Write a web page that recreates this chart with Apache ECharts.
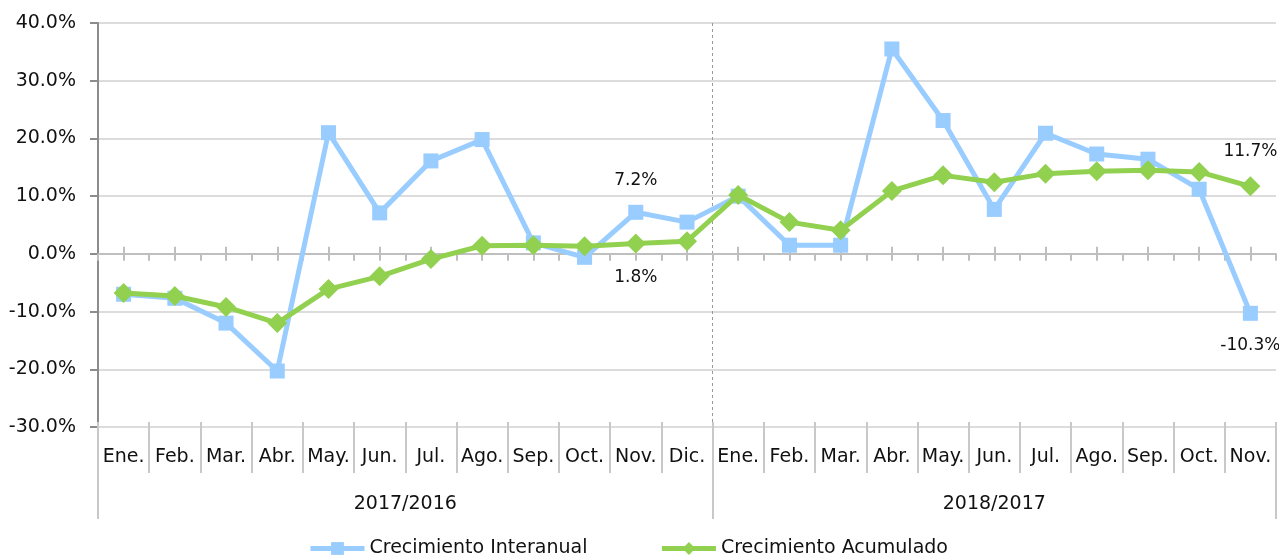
<!DOCTYPE html>
<html lang="es">
<head>
    <meta charset="UTF-8">
    <title>Crecimiento Interanual y Acumulado</title>
    <script src="https://cdn.jsdelivr.net/npm/echarts/dist/echarts.min.js"></script>
    <style>
        html, body { margin: 0; padding: 0; background: #ffffff; }
        #chart { width: 1279px; height: 557px; }
    </style>
</head>
<body>
    <div id="chart"></div>
    <script>
        // meses (eje de categorías)
        const months = ['Ene.', 'Feb.', 'Mar.', 'Abr.', 'May.', 'Jun.', 'Jul.', 'Ago.', 'Sep.', 'Oct.', 'Nov.', 'Dic.',
                        'Ene.', 'Feb.', 'Mar.', 'Abr.', 'May.', 'Jun.', 'Jul.', 'Ago.', 'Sep.', 'Oct.', 'Nov.'];
        // periodos (segundo nivel del eje)
        const periods = ['2017/2016', '2018/2017'];
        const periodLengths = [12, 11];

        // valores en %
        const interanual = [-7.0, -7.7, -12.0, -20.3, 21.0, 7.1, 16.1, 19.8, 1.9, -0.6, 7.2, 5.5,
                            10.0, 1.5, 1.5, 35.5, 23.1, 7.7, 20.9, 17.3, 16.4, 11.2, -10.3];
        const acumulado = [-6.8, -7.3, -9.2, -12.0, -6.1, -3.9, -0.9, 1.4, 1.5, 1.3, 1.8, 2.2,
                           10.2, 5.5, 4.1, 10.9, 13.6, 12.4, 13.9, 14.3, 14.5, 14.2, 11.7];

        // índices con etiqueta de dato
        const labelledIdx = [10, 22];
        const interanualLabelPos = ['top', 'bottom'];
        const acumuladoLabelPos = ['bottom', 'top'];

        const FONT = 'DejaVu Sans';

        // eje auxiliar con medio paso por categoría (para marcas y periodos)
        const halfSteps = Array.from({ length: months.length * 2 + 1 }, () => '');
        const boundaries = [0];
        let start = 0;
        periods.forEach((p, i) => {
            halfSteps[start * 2 + periodLengths[i]] = p;
            start += periodLengths[i];
            boundaries.push(start * 2);
        });

        function withLabels(values, positions) {
            return values.map((v, i) => {
                const k = labelledIdx.indexOf(i);
                if (k < 0) return v;
                return {
                    value: v,
                    label: {
                        show: true,
                        position: positions[k],
                        distance: 16,
                        fontFamily: FONT,
                        fontSize: 17,
                        color: '#111',
                        formatter: p => p.value.toFixed(1) + '%'
                    }
                };
            });
        }

        const chart = echarts.init(document.getElementById('chart'));
        const option = {
            animation: false,
            grid: { left: 98, right: 3, top: 23, bottom: 130 },
            legend: {
                top: 534,
                left: 303,
                itemWidth: 54,
                itemHeight: 16,
                itemGap: 72,
                lineStyle: { width: 5 },
                textStyle: { fontFamily: FONT, fontSize: 19, color: '#111' },
                data: ['Crecimiento Interanual', 'Crecimiento Acumulado']
            },
            xAxis: [
                {
                    // meses
                    type: 'category',
                    data: months,
                    boundaryGap: true,
                    position: 'bottom',
                    offset: -5,
                    axisLine: { show: false, onZero: false },
                    axisTick: { show: true, interval: 0, length: 51, lineStyle: { color: '#c8c8c8', width: 2 } },
                    axisLabel: { interval: 0, margin: 26, fontFamily: FONT, fontSize: 19, color: '#111' },
                    splitLine: { show: false }
                },
                {
                    // línea del cero con marcas cada media categoría
                    type: 'category',
                    data: halfSteps,
                    boundaryGap: false,
                    position: 'bottom',
                    axisLine: { show: true, onZero: true, onZeroAxisIndex: 0, lineStyle: { color: '#bfbfbf', width: 2 } },
                    axisTick: { show: true, length: 7, interval: 0, lineStyle: { color: '#bfbfbf', width: 2 } },
                    axisLabel: { show: false },
                    splitLine: { show: false }
                },
                {
                    // marcas hacia arriba en el centro de cada mes
                    type: 'category',
                    data: halfSteps,
                    boundaryGap: false,
                    position: 'bottom',
                    axisLine: { show: false, onZero: true, onZeroAxisIndex: 0 },
                    axisTick: { show: true, inside: true, length: 7, interval: i => i % 2 === 1, lineStyle: { color: '#bfbfbf', width: 2 } },
                    axisLabel: { show: false },
                    splitLine: { show: false }
                },
                {
                    // periodos
                    type: 'category',
                    data: halfSteps,
                    boundaryGap: false,
                    position: 'bottom',
                    axisLine: { show: false, onZero: false },
                    axisTick: { show: true, length: 92, interval: i => boundaries.includes(i), lineStyle: { color: '#c8c8c8', width: 2 } },
                    axisLabel: { interval: i => halfSteps[i] !== '', margin: 68, fontFamily: FONT, fontSize: 19, color: '#111' },
                    splitLine: {
                        show: true,
                        interval: i => i > 0 && i < halfSteps.length - 1 && boundaries.includes(i),
                        lineStyle: { color: '#999999', width: 1, type: [3, 3] }
                    }
                }
            ],
            yAxis: {
                type: 'value',
                min: -30,
                max: 40,
                interval: 10,
                axisLine: { show: true, lineStyle: { color: '#8c8c8c', width: 2 } },
                axisTick: { show: true, length: 8, lineStyle: { color: '#8c8c8c', width: 2 } },
                axisLabel: {
                    margin: 22,
                    fontFamily: FONT,
                    fontSize: 19,
                    color: '#111',
                    formatter: v => v.toFixed(1) + '%'
                },
                splitLine: { show: true, lineStyle: { color: '#dcdcdc', width: 2 } }
            },
            series: [
                {
                    name: 'Crecimiento Interanual',
                    type: 'line',
                    xAxisIndex: 0,
                    data: withLabels(interanual, interanualLabelPos),
                    symbol: 'rect',
                    symbolSize: 15,
                    itemStyle: { color: '#99ccff' },
                    lineStyle: { color: '#99ccff', width: 5 },
                    z: 3
                },
                {
                    name: 'Crecimiento Acumulado',
                    type: 'line',
                    xAxisIndex: 0,
                    data: withLabels(acumulado, acumuladoLabelPos),
                    symbol: 'diamond',
                    symbolSize: 20,
                    itemStyle: { color: '#92d050' },
                    lineStyle: { color: '#92d050', width: 5 },
                    z: 4
                }
            ]
        };
        chart.setOption(option);
    </script>
</body>
</html>
